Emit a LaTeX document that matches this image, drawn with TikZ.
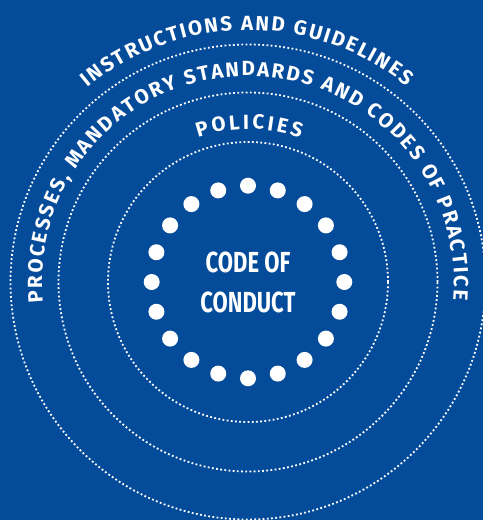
\documentclass[tikz,border=0pt]{standalone}
\usepackage{fontspec}
\setmainfont{Fira Sans}
\newfontfamily\condensed[FakeStretch=0.76]{Fira Sans}
\usetikzlibrary{decorations.text}
\definecolor{codeblue}{RGB}{4,75,154}

\begin{document}
\begin{tikzpicture}[x=1pt,y=1pt,
  ring/.style={white,line width=1.8pt,dash pattern=on 1.8pt off 2.4pt},
  ringtext/.style={decorate,decoration={text along path,text color=white,
    text align=fit to path,text={|\fontsize{20.5}{20}\selectfont\bfseries|#1}}}]
\fill[codeblue] (0,0) rectangle (483,520);
\useasboundingbox (0,0) rectangle (483,520);
\coordinate (c) at (248,238);

\draw[ring] (c) circle (140);
\draw[ring] (c) circle (189.5);
\draw[ring] (c) circle (237.5);

\path[ringtext={INSTRUCTIONS AND GUIDELINES}] (c) ++(129.5:252) arc[start angle=129.5,end angle=51,radius=252];
\path[ringtext={PROCESSES, MANDATORY STANDARDS AND CODES OF PRACTICE}] (c) ++(185.8:206) arc[start angle=185.8,end angle=-5,radius=206];
\path[ringtext={POLICIES}] (c) ++(109:153) arc[start angle=109,end angle=70,radius=153];

\foreach \a in {0,18,...,342}
  \fill[white] (c) ++(\a:96.3) circle (8);

\node[font=\condensed\bfseries\fontsize{29}{40}\selectfont,align=center,text=white] (code) at (c) {CODE OF\\CONDUCT};
\end{tikzpicture}
\end{document}
